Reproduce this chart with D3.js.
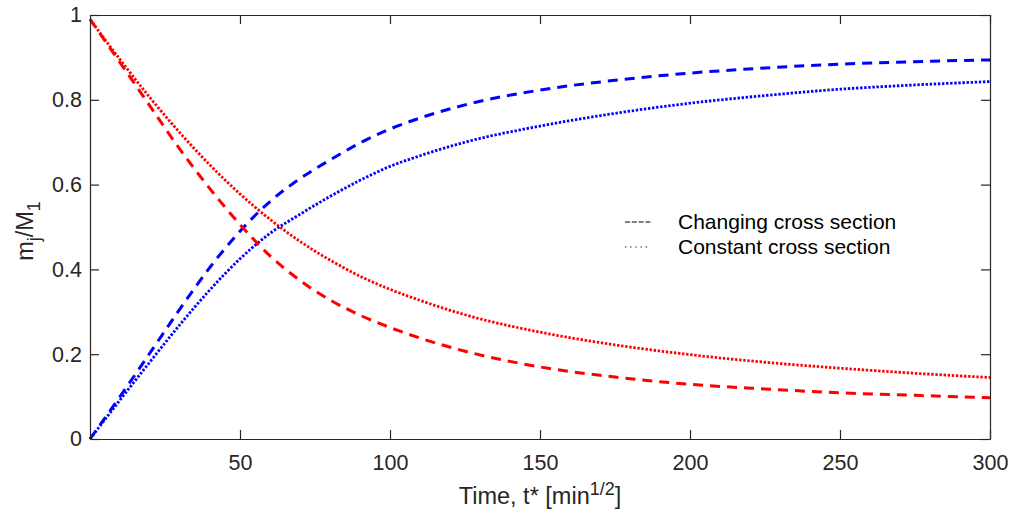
<!DOCTYPE html>
<html>
<head>
<meta charset="utf-8">
<script src="https://cdn.jsdelivr.net/npm/d3@7"></script>
<style>
  html, body { margin: 0; padding: 0; background: #fff; }
  svg { display: block; font-family: "Liberation Sans", Arial, Helvetica, sans-serif; }
</style>
</head>
<body>
<svg id="chart" width="1014" height="518"></svg>
<script>
// Time grid (t*, min^1/2) shared by the four curves
const time = [0, 10, 20, 30, 40, 50, 60, 70, 80, 90, 100, 110, 125, 150, 175, 200, 225, 250, 275, 300];
// Mass fraction m_j/M_1 — changing cross section
const uptakeChanging  = [0, 0.1, 0.203, 0.307, 0.405, 0.49, 0.56, 0.614, 0.658, 0.698, 0.731, 0.757, 0.788, 0.823, 0.846, 0.863, 0.875, 0.884, 0.89, 0.894];
const releaseChanging = [0.99, 0.888, 0.785, 0.683, 0.59, 0.506, 0.432, 0.374, 0.328, 0.292, 0.263, 0.238, 0.207, 0.17, 0.146, 0.129, 0.118, 0.109, 0.103, 0.097];
// Mass fraction m_j/M_1 — constant cross section
const uptakeConstant  = [0, 0.092, 0.182, 0.27, 0.352, 0.425, 0.485, 0.53, 0.572, 0.61, 0.643, 0.668, 0.7, 0.738, 0.768, 0.792, 0.81, 0.825, 0.835, 0.843];
const releaseConstant = [0.99, 0.895, 0.805, 0.722, 0.646, 0.578, 0.518, 0.466, 0.422, 0.384, 0.353, 0.327, 0.293, 0.252, 0.222, 0.199, 0.181, 0.167, 0.155, 0.145];

const xTicks = [50, 100, 150, 200, 250, 300];
const yTicks = [0, 0.2, 0.4, 0.6, 0.8, 1];
const legendLabels = ["Changing cross section", "Constant cross section"];

const svg = d3.select("#chart");
const margin = { left: 90, right: 24, top: 15, bottom: 79 };
const W = 1014, H = 518;
const x = d3.scaleLinear().domain([0, 300]).range([margin.left, W - margin.right]);
const y = d3.scaleLinear().domain([0, 1]).range([H - margin.bottom, margin.top]);
const axisColor = "#262626";

// Curves: dashed = changing cross section, dotted = constant cross section
const series = [
  { v: uptakeChanging,  color: "#0000ff", dash: "10,7",    width: 3 },
  { v: uptakeConstant,  color: "#0000ff", dash: "2.4,1.7", width: 2.8 },
  { v: releaseChanging, color: "#ff0000", dash: "10,7",    width: 3 },
  { v: releaseConstant, color: "#ff0000", dash: "2.4,1.7", width: 2.8 }
];
const line = d3.line().x(d => x(d[0])).y(d => y(d[1])).curve(d3.curveMonotoneX);
svg.append("g").selectAll("path").data(series).join("path")
  .attr("d", s => line(time.map((t, i) => [t, s.v[i]])))
  .attr("fill", "none")
  .attr("stroke", s => s.color)
  .attr("stroke-width", s => s.width)
  .attr("stroke-dasharray", s => s.dash);

// Axes box with inward ticks on all four sides
const axisBottomG = svg.append("g").attr("transform", `translate(0,${y(0)})`)
  .call(d3.axisBottom(x).tickValues(xTicks).tickSizeInner(-9).tickSizeOuter(0).tickPadding(16));
const axisTopG = svg.append("g").attr("transform", `translate(0,${y(1)})`)
  .call(d3.axisTop(x).tickValues(xTicks).tickSizeInner(-9).tickSizeOuter(0).tickFormat(""));
const axisLeftG = svg.append("g").attr("transform", `translate(${x(0)},0)`)
  .call(d3.axisLeft(y).tickValues(yTicks).tickSizeInner(-9).tickSizeOuter(0).tickPadding(8).tickFormat(d3.format("~g")));
const axisRightG = svg.append("g").attr("transform", `translate(${x(300)},0)`)
  .call(d3.axisRight(y).tickValues(yTicks).tickSizeInner(-9).tickSizeOuter(0).tickFormat(""));
[axisBottomG, axisTopG, axisLeftG, axisRightG].forEach(g => {
  g.selectAll("path").attr("stroke", axisColor).attr("stroke-width", 1.2);
  g.selectAll("line").attr("stroke", axisColor).attr("stroke-width", 1.2);
  g.selectAll("text").attr("fill", axisColor).style("font-size", "21.5px")
    .style("font-family", "Liberation Sans, Arial, sans-serif");
});

// Axis titles
const xl = svg.append("text").attr("x", x(150)).attr("y", 504)
  .attr("text-anchor", "middle").attr("fill", axisColor).style("font-size", "23.5px");
xl.append("tspan").text("Time, t* [min");
xl.append("tspan").attr("dy", -9).style("font-size", "18px").text("1/2");
xl.append("tspan").attr("dy", 9).text("]");

const yl = svg.append("text").attr("transform", `translate(33,231) rotate(-90)`)
  .attr("text-anchor", "middle").attr("fill", axisColor).style("font-size", "23.5px");
yl.append("tspan").text("m");
yl.append("tspan").attr("dy", 7).style("font-size", "18px").text("j");
yl.append("tspan").attr("dy", -7).text("/M");
yl.append("tspan").attr("dy", 7).style("font-size", "18px").text("1");

// Legend: line-style key
const legend = svg.append("g");
const styles = ["5,1.8", "1.2,4"];
legendLabels.forEach((lab, i) => {
  const cy = 222 + i * 25;
  legend.append("line").attr("x1", 625).attr("x2", 651).attr("y1", cy).attr("y2", cy)
    .attr("stroke", "#000").attr("stroke-width", 1.2).attr("stroke-dasharray", styles[i]);
  legend.append("text").attr("x", 678).attr("y", cy + 7).attr("fill", "#000")
    .style("font-size", "21px").text(lab);
});
</script>
</body>
</html>
